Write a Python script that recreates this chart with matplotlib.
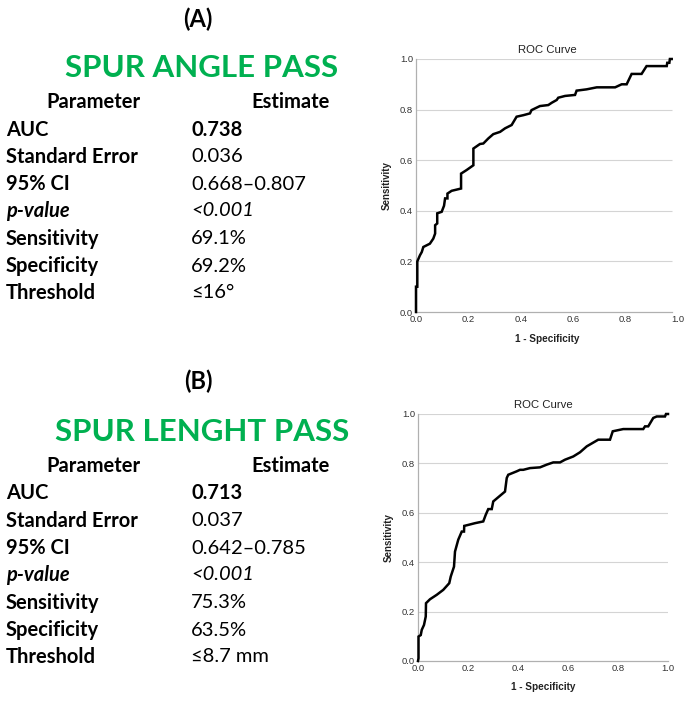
import matplotlib
matplotlib.use("Agg")
import matplotlib.pyplot as plt

# ---------------- data ----------------
panel_labels = ["(A)", "(B)"]
panel_titles = ["SPUR ANGLE PASS", "SPUR LENGHT PASS"]
param_names = ["AUC", "Standard Error", "95% CI", "p-value", "Sensitivity", "Specificity", "Threshold"]
estimates_a = ["0.738", "0.036", "0.668\u20130.807", "<0.001", "69.1%", "69.2%", "\u226416\u00b0"]
estimates_b = ["0.713", "0.037", "0.642\u20130.785", "<0.001", "75.3%", "63.5%", "\u22648.7 mm"]

fpr_a = [0.0, 0.0, 0.005, 0.005, 0.015, 0.022, 0.028, 0.053, 0.066, 0.073, 0.073, 0.081, 0.081,
         0.098, 0.107, 0.111, 0.12, 0.12, 0.136, 0.172, 0.172, 0.193, 0.219, 0.219, 0.244, 0.257,
         0.276, 0.295, 0.321, 0.34, 0.365, 0.384, 0.41, 0.435, 0.441, 0.473, 0.505, 0.518, 0.537,
         0.543, 0.569, 0.607, 0.613, 0.651, 0.69, 0.76, 0.785, 0.804, 0.823, 0.861, 0.88, 0.957,
         0.959, 0.967, 0.969, 0.976]
tpr_a = [0.0, 0.1, 0.1, 0.2, 0.224, 0.237, 0.257, 0.27, 0.29, 0.31, 0.343, 0.35, 0.39,
         0.396, 0.42, 0.449, 0.449, 0.468, 0.479, 0.488, 0.547, 0.561, 0.58, 0.646, 0.664, 0.666,
         0.686, 0.703, 0.712, 0.726, 0.739, 0.772, 0.778, 0.785, 0.798, 0.814, 0.818, 0.827, 0.838,
         0.847, 0.854, 0.858, 0.875, 0.88, 0.888, 0.888, 0.9, 0.9, 0.941, 0.941, 0.972, 0.972,
         0.985, 0.985, 1.0, 1.0]

fpr_b = [0.0, 0.002, 0.002, 0.011, 0.015, 0.024, 0.031, 0.032, 0.048, 0.075, 0.101, 0.125, 0.131,
         0.144, 0.148, 0.161, 0.175, 0.184, 0.185, 0.201, 0.228, 0.261, 0.271, 0.281, 0.295, 0.301,
         0.328, 0.348, 0.355, 0.361, 0.395, 0.408, 0.421, 0.448, 0.488, 0.515, 0.541, 0.568, 0.588,
         0.621, 0.648, 0.675, 0.721, 0.768, 0.779, 0.821, 0.901, 0.908, 0.921, 0.941, 0.955, 0.988,
         0.992, 1.0]
tpr_b = [0.0, 0.011, 0.099, 0.105, 0.126, 0.146, 0.18, 0.234, 0.25, 0.268, 0.288, 0.315, 0.342,
         0.382, 0.443, 0.491, 0.524, 0.524, 0.547, 0.551, 0.558, 0.565, 0.592, 0.615, 0.615, 0.646,
         0.669, 0.686, 0.741, 0.754, 0.768, 0.774, 0.774, 0.781, 0.784, 0.795, 0.804, 0.804, 0.815,
         0.828, 0.845, 0.869, 0.896, 0.896, 0.93, 0.939, 0.939, 0.95, 0.95, 0.984, 0.99, 0.99,
         1.0, 1.0]

ticks = [0.0, 0.2, 0.4, 0.6, 0.8, 1.0]
tick_labels = ["0.0", "0.2", "0.4", "0.6", "0.8", "1.0"]

# ---------------- figure ----------------
W, H = 686, 703
fig = plt.figure(figsize=(W / 100, H / 100), dpi=100)
GREEN = "#00B050"
TFONT = ["Lato", "DejaVu Sans"]
AFONT = ["Liberation Sans", "DejaVu Sans"]
FS = 14.5


def fx(px):
    return px / W


def fy(py):
    return 1 - py / H


def table(label, title, estimates, y_lab, y_title, y_head, y_rows):
    fig.text(fx(198), fy(y_lab), label, ha="center", va="center", fontsize=17,
             fontweight="bold", family=TFONT, color="black")
    fig.text(fx(202), fy(y_title), title, ha="center", va="center", fontsize=22.5,
             fontweight="bold", family=TFONT, color=GREEN)
    fig.text(fx(93), fy(y_head), "Parameter", ha="center", va="center", fontsize=FS,
             fontweight="bold", family=TFONT, color="black")
    fig.text(fx(291), fy(y_head), "Estimate", ha="center", va="center", fontsize=FS,
             fontweight="bold", family=TFONT, color="black")
    for i, (name, est) in enumerate(zip(param_names, estimates)):
        y = fy(y_rows[i])
        style = "italic" if name == "p-value" else "normal"
        fig.text(fx(6), y, name, ha="left", va="center", fontsize=FS, fontweight="bold",
                 style=style, family=TFONT, color="black")
        fig.text(fx(191), y, est, ha="left", va="center", fontsize=FS,
                 fontweight="bold" if name == "AUC" else "normal", style=style,
                 family=TFONT, color="black")


rows_a = [130, 157, 184, 211, 239, 266, 293]
rows_b = [493, 521, 548, 575, 603, 630, 657]
table(panel_labels[0], panel_titles[0], estimates_a, 19, 68, 102, rows_a)
table(panel_labels[1], panel_titles[1], estimates_b, 381, 432, 466, rows_b)


def roc(rect, fpr, tpr, xend):
    ax = fig.add_axes(rect)
    ax.plot(fpr, tpr, color="black", lw=1.8, solid_joinstyle="miter", zorder=3, clip_on=False)
    ax.set_xlim(0, 1)
    ax.set_ylim(0, 1)
    ax.hlines(ticks[1:], 0, xend, colors="#d4d4d4", lw=0.8, zorder=1)
    for s in ["top", "right"]:
        ax.spines[s].set_visible(False)
    for s in ["left", "bottom"]:
        ax.spines[s].set_color("#b0b0b0")
        ax.spines[s].set_linewidth(0.9)
    ax.spines["bottom"].set_bounds(0, xend)
    ax.set_xticks(ticks)
    ax.set_xticklabels(tick_labels)
    ax.set_yticks(ticks)
    ax.set_yticklabels(tick_labels)
    ax.tick_params(length=0, labelsize=6.8, colors="#333333", pad=2)
    for lab in ax.get_xticklabels() + ax.get_yticklabels():
        lab.set_family(AFONT)
    ax.set_title("ROC Curve", fontsize=8.2, family=AFONT, color="#222222", pad=4)
    ax.set_xlabel("1 - Specificity", fontsize=7.2, fontweight="bold", family=AFONT,
                  color="#222222", labelpad=7)
    ax.set_ylabel("Sensitivity", fontsize=7, fontweight="bold", family=AFONT,
                  color="#222222", labelpad=6)
    ax.set_facecolor("white")
    return ax


roc([fx(416), fy(312), 262 / W, 253 / H], fpr_a, tpr_a, 0.977)
roc([fx(418), fy(661), 250 / W, 247 / H], fpr_b, tpr_b, 1.0)

fig.savefig("out.png", dpi=100, facecolor="white")
